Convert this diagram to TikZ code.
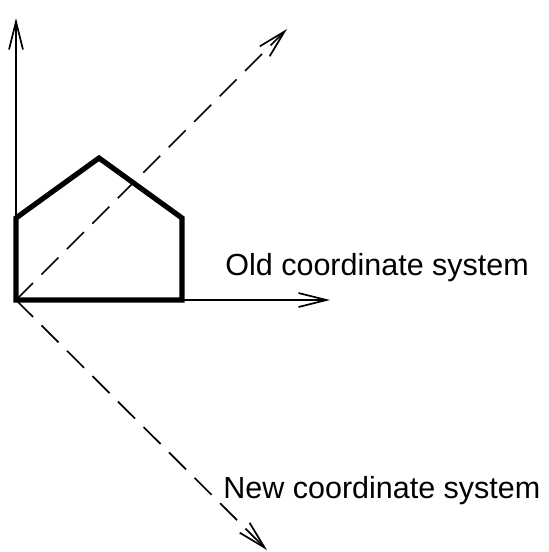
\documentclass[tikz,border=0pt]{standalone}
\usepackage{fontspec}
\setmainfont{Liberation Sans}
\usetikzlibrary{arrows.meta}

\begin{document}
\begin{tikzpicture}[
    x=0.5pt, y=-0.5pt,
    axis/.style={line width=0.85pt, -{Straight Barb[length=14pt,width=7pt,line width=0.85pt]}},
    newaxis/.style={axis, dash pattern=on 12pt off 6pt},
    house/.style={line width=2.6pt, line join=miter},
    label/.style={inner sep=0pt, anchor=base west, font=\fontsize{15.25}{18}\selectfont}
]
    \useasboundingbox (0,0) rectangle (549,552);
    % axes
    \coordinate (origin) at (16,300);
    \coordinate (xend) at (330,300);
    \coordinate (yend) at (16,18);
    \coordinate (upend) at (287,29);
    \coordinate (downend) at (267,550);
    \draw [axis] (origin) -- (xend);
    \draw [axis] (origin) -- (yend);
    \draw [newaxis] (origin) -- (upend);
    \draw [newaxis] (origin) -- (downend);
    % house
    \draw [house] (origin) -- (182,300) -- (182,218) -- (99,158) -- (16,218) -- cycle;
    % labels
    \node [label] (oldlabel) at (225,275) {Old coordinate system};
    \node [label] (newlabel) at (223,498) {New coordinate system};
\end{tikzpicture}
\end{document}
